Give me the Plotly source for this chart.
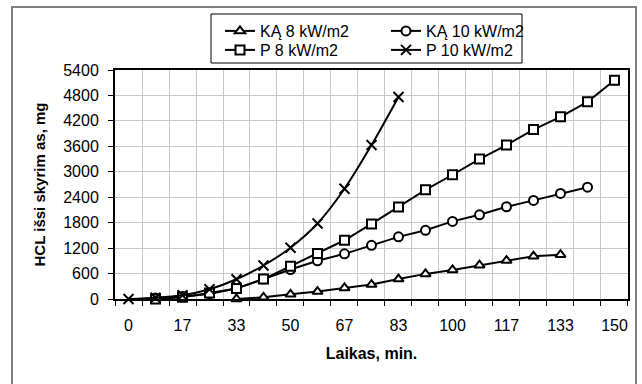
import plotly.graph_objects as go

# ---- data ----
times = [0, 8.333, 16.667, 25, 33.333, 41.667, 50, 58.333, 66.667, 75,
         83.333, 91.667, 100, 108.333, 116.667, 125, 133.333, 141.667, 150]
tick_labels = ["0", "17", "33", "50", "67", "83", "100", "117", "133", "150"]
y_ticks = [0, 600, 1200, 1800, 2400, 3000, 3600, 4200, 4800, 5400]

ka8 = [None, None, None, None, 0, 40, 110, 175, 262, 340, 470, 592, 685,
       797, 905, 1008, 1045, None, None]
ka10 = [None, 25, 60, 120, 250, 470, 695, 900, 1065, 1265, 1465, 1620, 1830,
        1985, 2175, 2325, 2490, 2637, None]
p8 = [None, 0, 40, 140, 245, 470, 770, 1070, 1385, 1770, 2170, 2575, 2930,
      3300, 3630, 3995, 4295, 4650, 5160]
p10 = [0, 30, 90, 230, 465, 790, 1210, 1780, 2600, 3630, 4765, None, None,
       None, None, None, None, None, None]

names = ["KĄ 8 kW/m2", "KĄ 10 kW/m2", "P 8 kW/m2", "P 10 kW/m2"]

FONT = "Liberation Sans, Arial, sans-serif"

fig = go.Figure()

def add(y, name, symbol, size, legend, shape="linear"):
    fill = "black" if symbol.startswith("x") else "white"
    fig.add_trace(go.Scatter(
        x=times, y=y, name=name, mode="lines+markers",
        line=dict(color="black", width=2, shape=shape, smoothing=0.8),
        marker=dict(symbol=symbol, size=size, color=fill,
                    line=dict(color="black", width=2)),
        cliponaxis=False, legend=legend,
    ))

add(ka8, names[0], "triangle-up", 9, "legend")
add(ka10, names[1], "circle", 9, "legend")
add(p8, names[2], "square", 9, "legend2")
add(p10, names[3], "x-thin", 10, "legend2", shape="spline")

L, R, T, B = 115, 14, 70, 85
W = 642 - L - R
H = 384 - T - B

def px(x):
    return (x - L) / W

def py(y):
    return (384 - B - y) / H

step = times[1] - times[0]

leg_common = dict(orientation="h", xanchor="left", yanchor="top",
                  entrywidth=121, font=dict(size=16), bgcolor="rgba(0,0,0,0)",
                  itemwidth=30, tracegroupgap=0)

fig.update_layout(
    width=642, height=384,
    margin=dict(l=L, r=R, t=T, b=B),
    paper_bgcolor="white", plot_bgcolor="white",
    font=dict(family=FONT, size=16, color="black"),
    legend=dict(x=px(220), y=py(14), **leg_common),
    legend2=dict(x=px(220), y=py(33), **leg_common),
    xaxis=dict(
        range=[times[0] - step / 2, times[-1] + step / 2],
        tickmode="array", tickvals=times[::2], ticktext=tick_labels,
        ticks="", showgrid=False, zeroline=False,
        showline=True, linecolor="black", linewidth=2, mirror=True,
        ticklabelstandoff=11,
        minor=dict(tick0=times[0] - step / 2, dtick=step, ticks="outside",
                   ticklen=5, tickwidth=1, tickcolor="black",
                   showgrid=True, gridcolor="#c8c8c8", gridwidth=1),
        title=dict(text="<b>Laikas, min.</b>", font=dict(size=16), standoff=15),
    ),
    yaxis=dict(
        range=[0, 5400], tickmode="array", tickvals=y_ticks,
        ticks="outside", ticklen=5, tickwidth=1, tickcolor="black",
        showgrid=True, gridcolor="#c8c8c8", gridwidth=1, zeroline=False,
        showline=True, linecolor="black", linewidth=2, mirror=True,
        ticklabelstandoff=6,
        title=dict(text="<b>HCL išsi skyrim as, mg</b>", font=dict(size=15), standoff=14),
    ),
    shapes=[
        dict(type="rect", xref="paper", yref="paper",
             x0=px(12), x1=px(636), y0=py(395), y1=py(7),
             line=dict(color="#808080", width=2), layer="below"),
        dict(type="rect", xref="paper", yref="paper",
             x0=px(211), x1=px(522), y0=py(63), y1=py(14),
             line=dict(color="black", width=1)),
    ],
)

fig.write_html("out.html")
